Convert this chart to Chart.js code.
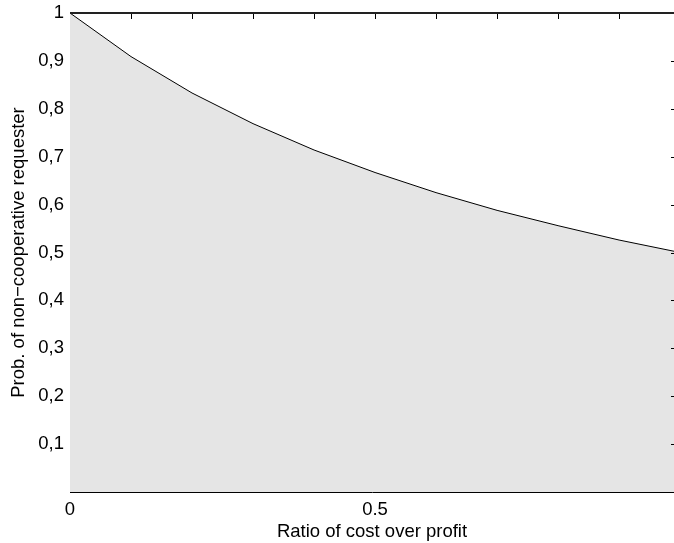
<!DOCTYPE html>
<html>
<head>
<meta charset="utf-8">
<script src="https://cdn.jsdelivr.net/npm/chart.js@4"></script>
<style>
  body { margin: 0; background: #fff; }
  #wrap { width: 674px; height: 543px; }
</style>
</head>
<body>
<div id="wrap"><canvas id="myChart"></canvas></div>
<script>
// ratio of cost over profit, and probability read at each step
const ratio = [0, 0.1, 0.2, 0.3, 0.4, 0.5, 0.6, 0.7, 0.8, 0.9, 1.0];
const prob = [1.0, 0.909, 0.833, 0.769, 0.714, 0.667, 0.625, 0.588, 0.556, 0.526, 0.5];

const xTicks = [0, 0.5];
const xTickLabels = ['0', '0.5'];
const yTicks = [0.1, 0.2, 0.3, 0.4, 0.5, 0.6, 0.7, 0.8, 0.9, 1.0];
const yTickLabels = ['0,1', '0,2', '0,3', '0,4', '0,5', '0,6', '0,7', '0,8', '0,9', '1'];
// small marks on the top and right frame
const topMarks = [0.1, 0.2, 0.3, 0.4, 0.5, 0.6, 0.7, 0.8, 0.9];
const rightMarks = [0.1, 0.2, 0.3, 0.4, 0.5, 0.6, 0.7, 0.8, 0.9];

const points = ratio.map((r, i) => ({ x: r, y: prob[i] }));
const font = { family: "'Liberation Sans', Arial, sans-serif", size: 18.5 };

// frame on the top plus the inward marks
const frameMarks = {
  id: 'frameMarks',
  afterDraw(chart) {
    const c = chart.ctx;
    const area = chart.chartArea;
    const xs = chart.scales.x;
    const ys = chart.scales.y;
    c.save();
    c.strokeStyle = '#000';
    c.lineWidth = 1;
    topMarks.forEach(v => {
      const px = Math.round(xs.getPixelForValue(v)) + 0.5;
      c.beginPath();
      c.moveTo(px, area.top);
      c.lineTo(px, area.top + 6);
      c.stroke();
    });
    rightMarks.forEach(v => {
      const py = Math.round(ys.getPixelForValue(v)) + 0.5;
      c.beginPath();
      c.moveTo(area.right, py);
      c.lineTo(area.right - 3, py);
      c.stroke();
    });
    c.strokeStyle = '#222';
    c.lineWidth = 2;
    c.beginPath();
    c.moveTo(area.left, area.top);
    c.lineTo(area.right, area.top);
    c.stroke();
    c.restore();
  }
};

const ctx = document.getElementById('myChart').getContext('2d');
const myChart = new Chart(ctx, {
  type: 'line',
  data: {
    datasets: [{
      data: points,
      borderColor: '#000',
      borderWidth: 1,
      backgroundColor: '#e5e5e5',
      fill: 'origin',
      pointRadius: 0,
      tension: 0
    }]
  },
  options: {
    responsive: true,
    maintainAspectRatio: false,
    animation: false,
    layout: { padding: { top: 13, right: 0, bottom: 0, left: 0 } },
    plugins: { legend: { display: false }, tooltip: { enabled: false } },
    scales: {
      x: {
        type: 'linear',
        min: 0,
        max: 0.99,
        afterBuildTicks: scale => { scale.ticks = xTicks.map(v => ({ value: v })); },
        afterFit: scale => { scale.height = 51; scale.paddingRight = 0; },
        ticks: {
          color: '#000',
          font: font,
          padding: 7,
          maxRotation: 0,
          callback: (v) => xTickLabels[xTicks.indexOf(v)]
        },
        grid: { display: true, drawOnChartArea: false, drawTicks: false },
        border: { display: true, color: '#000', width: 1 },
        title: {
          display: true,
          text: 'Ratio of cost over profit',
          color: '#000',
          font: font,
          padding: { top: 0, bottom: 0 }
        }
      },
      y: {
        type: 'linear',
        min: 0,
        max: 1,
        afterBuildTicks: scale => { scale.ticks = yTicks.map(v => ({ value: v })); },
        afterFit: scale => { scale.width = 70; scale.paddingTop = 0; },
        ticks: {
          color: '#000',
          font: font,
          padding: 6,
          callback: (v) => yTickLabels[yTicks.indexOf(v)]
        },
        grid: { display: true, drawOnChartArea: false, drawTicks: false },
        border: { display: true, color: '#000', width: 1 },
        title: {
          display: true,
          text: 'Prob. of non\u2212cooperative requester',
          color: '#000',
          font: font,
          padding: { top: 8, bottom: 0 }
        }
      }
    }
  },
  plugins: [frameMarks]
});
</script>
</body>
</html>
